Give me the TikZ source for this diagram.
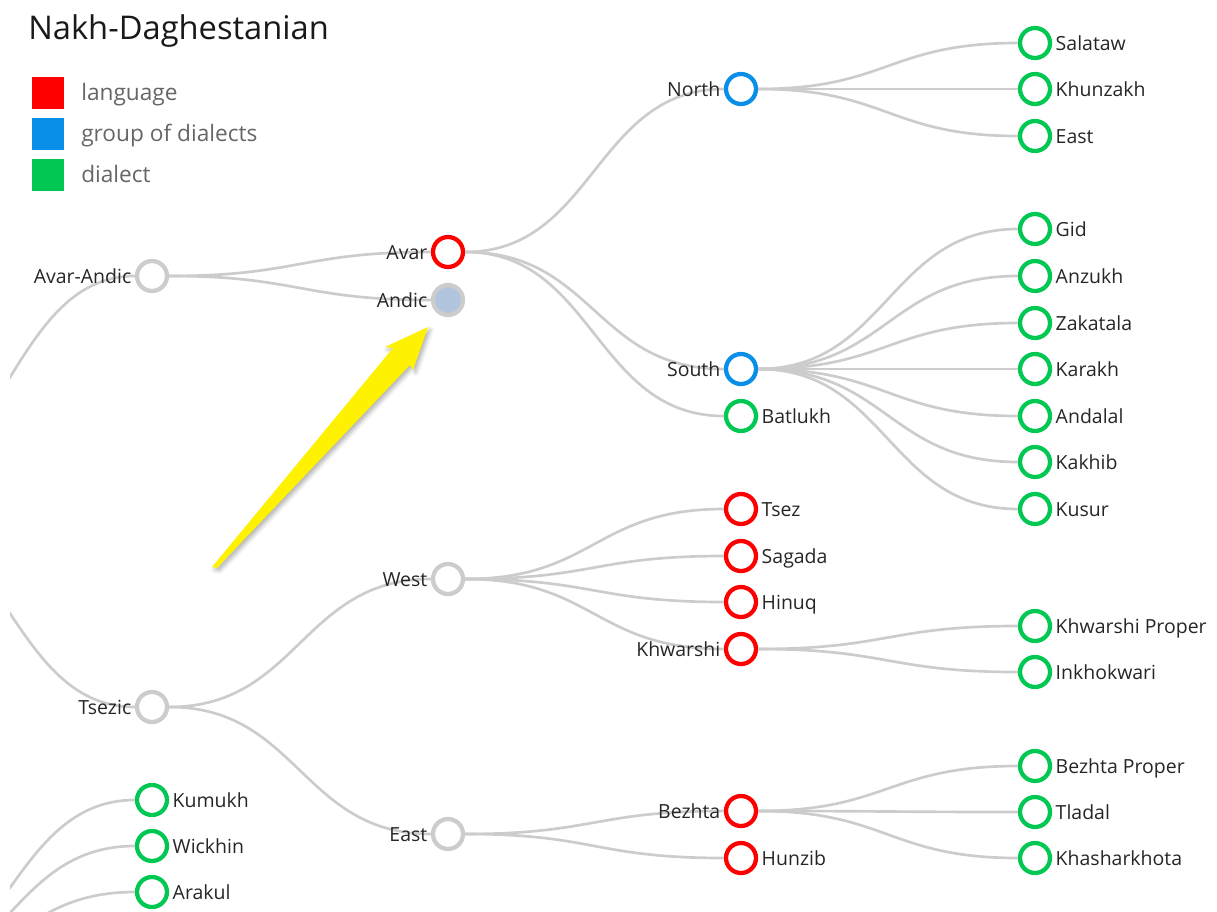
\documentclass[tikz,border=0pt]{standalone}
\usepackage{fontspec}
\setmainfont{Open Sans}
\usetikzlibrary{positioning,shadows.blur}
\definecolor{language}{HTML}{FF0000}
\definecolor{dgroup}{HTML}{0A8FE8}
\definecolor{dialect}{HTML}{00C853}
\definecolor{linkgray}{HTML}{CCCCCC}
\definecolor{andicfill}{HTML}{B0C4DE}
\definecolor{legtext}{HTML}{666666}

\tikzset{
  tnode/.style={circle, draw=linkgray, fill=white, line width=3.2pt, minimum size=22.5pt, inner sep=0pt},
  lang/.style={tnode, draw=language},
  dgrp/.style={tnode, draw=dgroup},
  dial/.style={tnode, draw=dialect},
  link/.style={draw=linkgray, line width=2pt},
  lab/.style={font=\fontsize{14.6}{16}\selectfont, text=black!85, inner sep=0pt, text height=13pt, text depth=2.5pt},
  legbox/.style={minimum size=24pt, inner sep=0pt},
  legtxt/.style={font=\fontsize{17}{20}\selectfont, text=legtext, anchor=base west, inner sep=0pt},
}
\newcommand{\branch}[2]{\draw[link] (#1) .. controls +(146,0) and +(-146,0) .. (#2);}
% labels come after the links so the text sits on top
\newcommand{\leftlab}[2]{\node[lab, left=2.5pt of #1] (#1-lab) {#2};}
\newcommand{\rightlab}[2]{\node[lab, right=2.5pt of #1] (#1-lab) {#2};}

\begin{document}
\begin{tikzpicture}[x=0.75pt, y=-0.75pt]
\useasboundingbox (0,0) rectangle (1217,911);
\clip (10,0) rectangle (1217,911);

% --- Title and legend ---
\node[font=\fontsize{24.5}{29}\selectfont, text=black!90, anchor=base west, inner sep=0pt] (title) at (28,39) {Nakh-Daghestanian};
\node[legbox, fill=language] (leglang) at (47.5,93) {};
\node[legbox, fill=dgroup] (leggroup) at (47.5,133.5) {};
\node[legbox, fill=dialect] (legdial) at (47.5,174.5) {};
\node[legtxt] (leglangtxt) at (81,100) {language};
\node[legtxt] (leggrouptxt) at (81,141) {group of dialects};
\node[legtxt] (legdialtxt) at (81,182) {dialect};

% --- Off-screen parents ---
\coordinate (root) at (-141,500);
\coordinate (lak) at (-141,994);

% --- Avar-Andic branch ---
\node[tnode] (avarandic) at (152,276) {};
\branch{root}{avarandic}
\leftlab{avarandic}{Avar-Andic}
\node[lang] (avar) at (448,252) {};
\branch{avarandic}{avar}
\leftlab{avar}{Avar}
\node[tnode, fill=andicfill] (andic) at (448,300) {};
\branch{avarandic}{andic}
\leftlab{andic}{Andic}
\node[dgrp] (north) at (741,89) {};
\branch{avar}{north}
\leftlab{north}{North}
\node[dgrp] (south) at (741,369) {};
\branch{avar}{south}
\leftlab{south}{South}
\node[dial] (batlukh) at (741,416) {};
\branch{avar}{batlukh}
\rightlab{batlukh}{Batlukh}

\foreach \name/\y/\txt in {salataw/43/Salataw, khunzakh/89/Khunzakh, neast/136/East} {
  \node[dial] (\name) at (1035,\y) {};
  \branch{north}{\name}
  \rightlab{\name}{\txt}
}
\foreach \name/\y/\txt in {gid/229/Gid, anzukh/276/Anzukh, zakatala/323/Zakatala,
    karakh/369/Karakh, andalal/416/Andalal, kakhib/462/Kakhib, kusur/509/Kusur} {
  \node[dial] (\name) at (1035,\y) {};
  \branch{south}{\name}
  \rightlab{\name}{\txt}
}

% --- Tsezic branch ---
\node[tnode] (tsezic) at (152,707) {};
\branch{root}{tsezic}
\leftlab{tsezic}{Tsezic}
\node[tnode] (west) at (448,579) {};
\branch{tsezic}{west}
\leftlab{west}{West}
\node[tnode] (teast) at (448,834) {};
\branch{tsezic}{teast}
\leftlab{teast}{East}

\foreach \name/\y/\txt in {tsez/509/Tsez, sagada/556/Sagada, hinuq/602/Hinuq} {
  \node[lang] (\name) at (741,\y) {};
  \branch{west}{\name}
  \rightlab{\name}{\txt}
}
\node[lang] (khwarshi) at (741,649) {};
\branch{west}{khwarshi}
\leftlab{khwarshi}{Khwarshi}
\foreach \name/\y/\txt in {khwproper/626/Khwarshi Proper, inkhokwari/672/Inkhokwari} {
  \node[dial] (\name) at (1035,\y) {};
  \branch{khwarshi}{\name}
  \rightlab{\name}{\txt}
}

\node[lang] (bezhta) at (741,811) {};
\branch{teast}{bezhta}
\leftlab{bezhta}{Bezhta}
\node[lang] (hunzib) at (741,858) {};
\branch{teast}{hunzib}
\rightlab{hunzib}{Hunzib}
\foreach \name/\y/\txt in {bzhproper/766/Bezhta Proper, tladal/812/Tladal, khasharkhota/858/Khasharkhota} {
  \node[dial] (\name) at (1035,\y) {};
  \branch{bezhta}{\name}
  \rightlab{\name}{\txt}
}

% --- Lak dialects ---
\foreach \name/\y/\txt in {kumukh/800/Kumukh, wickhin/846/Wickhin, arakul/892/Arakul} {
  \node[dial] (\name) at (152,\y) {};
  \branch{lak}{\name}
  \rightlab{\name}{\txt}
}

% --- Pointer ---
\fill[yellow, blur shadow={shadow xshift=2pt, shadow yshift=-2pt, shadow blur radius=3pt, shadow opacity=30}]
  (212,567) -- (393,348) -- (385,347) -- (428,327) -- (413,370) -- (410,365) -- (217,568) -- cycle;
\end{tikzpicture}
\end{document}
